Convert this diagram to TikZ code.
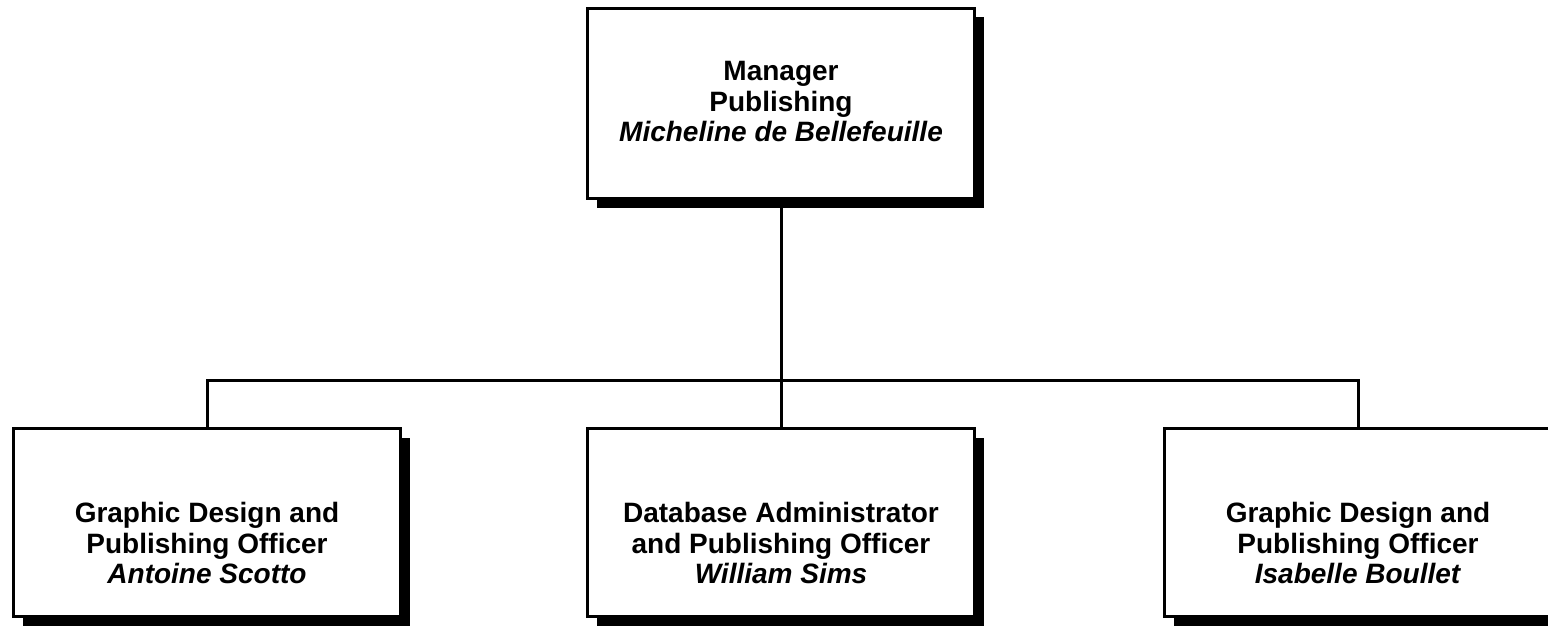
\documentclass[tikz,border=0pt]{standalone}
\usepackage{fontspec}
\setmainfont{Liberation Sans}
\usetikzlibrary{shadows}
\tikzset{
  box/.style={draw, line width=3pt, fill=white, inner sep=0pt,
    minimum width=387pt,
    drop shadow={shadow xshift=9pt, shadow yshift=-9pt, fill=black, opacity=1}},
  topbox/.style={box, minimum height=190pt},
  lowbox/.style={box, minimum height=188pt},
  txt/.style={align=center, inner sep=0pt, font=\fontsize{28}{30.5}\selectfont\bfseries},
  link/.style={line width=3pt}
}
\begin{document}
\begin{tikzpicture}[x=1pt,y=-1pt]
\useasboundingbox (0,0) rectangle (1548,626);
\coordinate (bus) at (781,380);
\node[topbox] (mgr) at (781,103.5) {};
\node[lowbox] (gd1) at (207,522.5) {};
\node[lowbox] (dba) at (781,522.5) {};
\node[lowbox] (gd2) at (1358,522.5) {};
\draw[link] (mgr.south) -- (bus);
\draw[link] (gd1.north) |- (bus) -| (gd2.north);
\draw[link] (bus) -- (dba.north);
\node[txt] (mgrt) at (781,102) {Manager\\Publishing\\\textit{Micheline de Bellefeuille}};
\node[txt] (gd1t) at (207,543) {Graphic Design and\\Publishing Officer\\\textit{Antoine Scotto}};
\node[txt] (dbat) at (781,543) {Database Administrator\\and Publishing Officer\\\textit{William Sims}};
\node[txt] (gd2t) at (1358,543) {Graphic Design and\\Publishing Officer\\\textit{Isabelle Boullet}};
\end{tikzpicture}
\end{document}
